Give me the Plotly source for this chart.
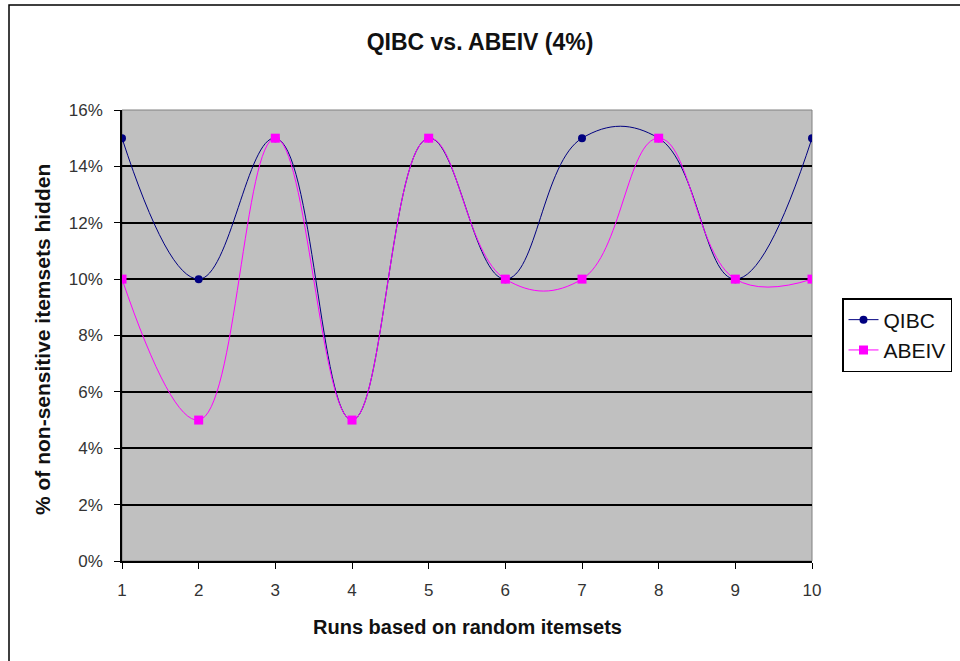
import plotly.graph_objects as go

runs = [1, 2, 3, 4, 5, 6, 7, 8, 9, 10]
qibc = [0.15, 0.10, 0.15, 0.05, 0.15, 0.10, 0.15, 0.15, 0.10, 0.15]
abeiv = [0.10, 0.05, 0.15, 0.05, 0.15, 0.10, 0.10, 0.15, 0.10, 0.10]
y_ticks = [0, 0.02, 0.04, 0.06, 0.08, 0.10, 0.12, 0.14, 0.16]
y_ticktext = ["0%", "2%", "4%", "6%", "8%", "10%", "12%", "14%", "16%"]

W, H = 960, 661
L, R, T, B = 122, 148, 110, 100
pw, ph = W - L - R, H - T - B

def px_x(p):
    return (p - L) / pw

def px_y(p):
    return (H - B - p) / ph

FONT = "Liberation Sans, Arial"

fig = go.Figure()
fig.add_trace(go.Scatter(
    x=runs, y=qibc, name="QIBC", mode="lines+markers",
    line=dict(color="#000080", width=1, shape="spline", smoothing=1.2),
    marker=dict(symbol="circle", size=8, color="#000080"),
))
fig.add_trace(go.Scatter(
    x=runs, y=abeiv, name="ABEIV", mode="lines+markers",
    line=dict(color="#FF00FF", width=1, shape="spline", smoothing=1.2),
    marker=dict(symbol="square", size=9, color="#FF00FF"),
))

fig.update_layout(
    width=W, height=H,
    margin=dict(l=L, r=R, t=T, b=B, autoexpand=False),
    paper_bgcolor="white",
    plot_bgcolor="#C0C0C0",
    font=dict(family=FONT, size=17, color="#333333"),
    title=dict(text="<b>QIBC vs. ABEIV (4%)</b>", x=px_x(480), xanchor="center",
               xref="paper", y=1 - 42 / H, yanchor="middle",
               font=dict(size=23, color="#111111")),
    xaxis=dict(
        range=[1, 10], tickvals=runs, ticks="outside", ticklen=6,
        tickcolor="black", showline=True, linecolor="black", linewidth=1.5,
        showgrid=False, zeroline=False, mirror=False,
        ticklabelstandoff=7,
        tickfont=dict(size=17, color="#333333"),
    ),
    yaxis=dict(
        range=[0, 0.16], tickvals=y_ticks, ticktext=y_ticktext,
        ticks="outside", ticklen=6, tickcolor="black",
        showline=True, linecolor="black", linewidth=1.5,
        showgrid=True, gridcolor="black", gridwidth=1.6, zeroline=False,
        ticklabelstandoff=8,
        tickfont=dict(size=17, color="#333333"),
    ),
    legend=dict(
        x=px_x(842), xanchor="left", y=px_y(335), yanchor="middle",
        bgcolor="white", bordercolor="black", borderwidth=1.5,
        font=dict(size=21, color="#111111"),
        itemwidth=30, tracegroupgap=2,
    ),
    showlegend=True,
)

# axis titles
fig.add_annotation(text="<b>Runs based on random itemsets</b>", xref="paper", yref="paper",
                   x=px_x(467), y=px_y(627), xanchor="center", yanchor="middle",
                   showarrow=False, font=dict(size=20, color="#111111", family=FONT))
fig.add_annotation(text="<b>% of non-sensitive itemsets hidden</b>", xref="paper", yref="paper",
                   x=px_x(42), y=px_y(340), xanchor="center", yanchor="middle",
                   textangle=-90, showarrow=False,
                   font=dict(size=21, color="#111111", family=FONT))

# grey border of plot area
fig.add_shape(type="rect", xref="paper", yref="paper", x0=0, x1=1, y0=0, y1=1,
              line=dict(color="#808080", width=1), layer="below")
# outer chart frame
fig.add_shape(type="rect", xref="paper", yref="paper",
              x0=px_x(9), x1=px_x(975), y0=px_y(675), y1=px_y(5),
              line=dict(color="black", width=1.5))

fig.write_html("out.html")
